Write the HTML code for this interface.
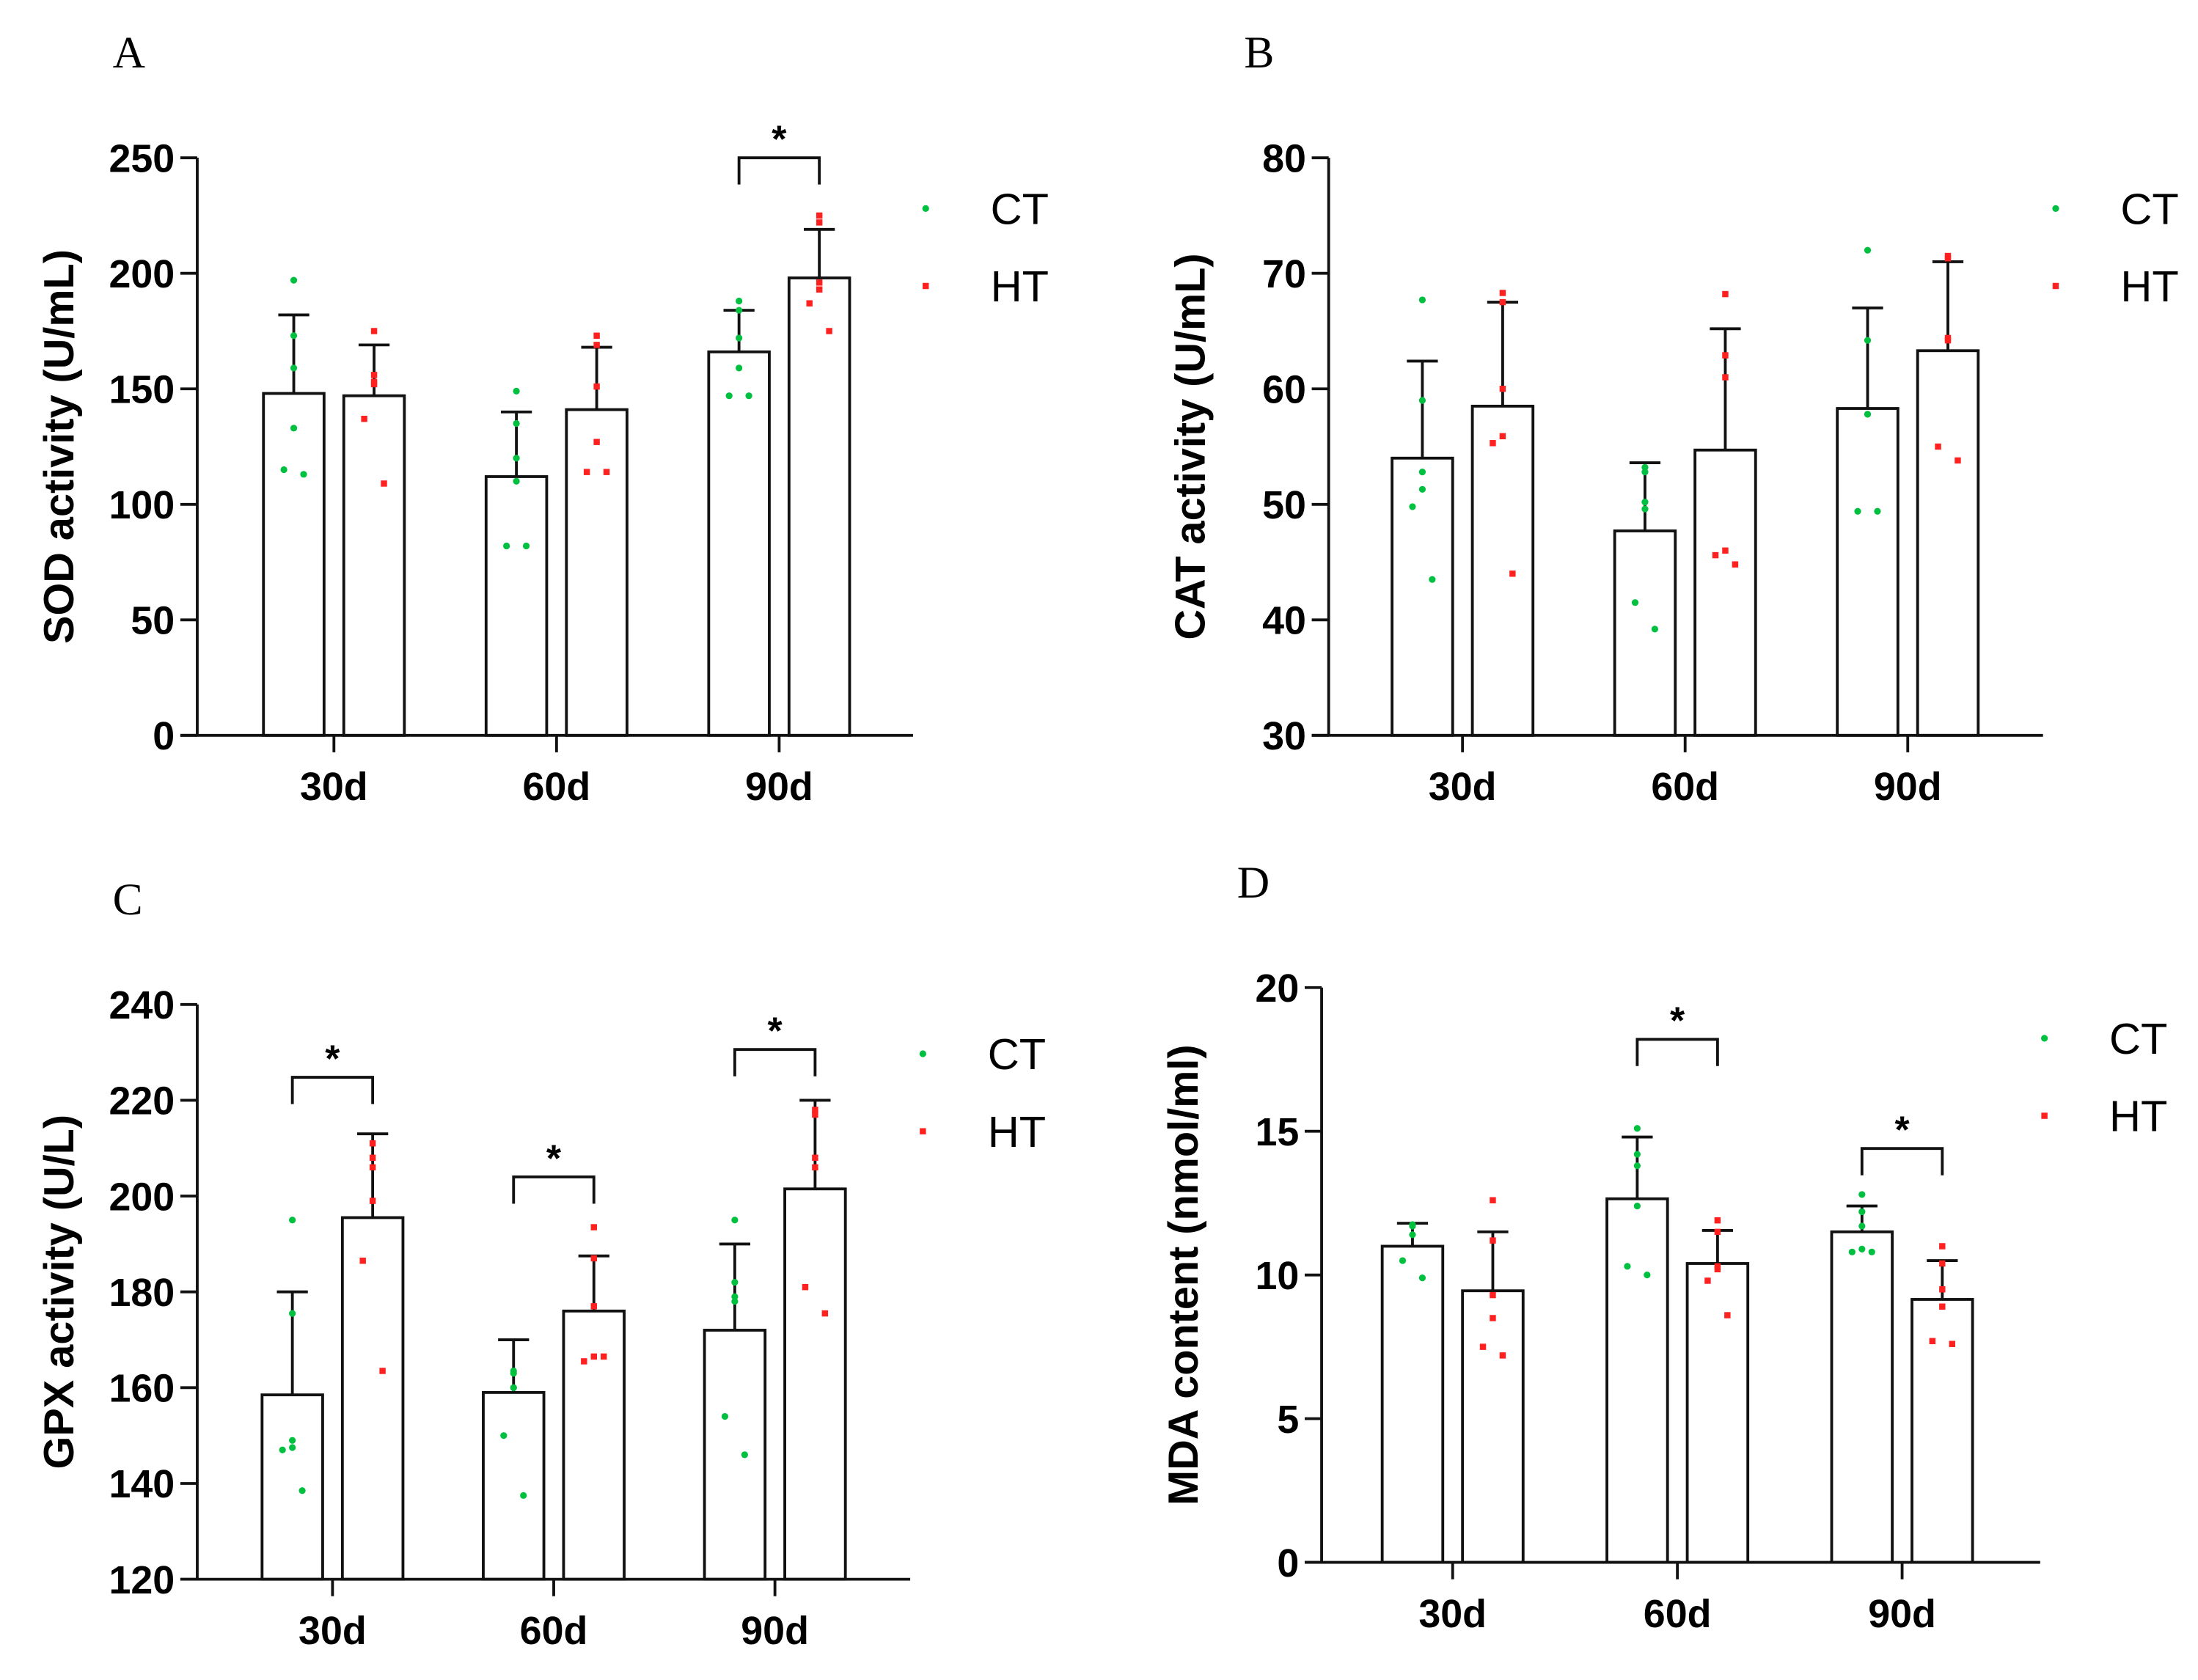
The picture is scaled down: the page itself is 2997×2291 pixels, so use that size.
<!DOCTYPE html>
<html><head><meta charset="utf-8">
<style>
html,body{margin:0;padding:0;background:#fff;}
svg{display:block;}
text{font-family:"Liberation Sans",Arial,sans-serif;}
text.serif{font-family:"Liberation Serif","Times New Roman",serif;}
</style></head>
<body>
<svg id="fig" width="2997" height="2291" viewBox="0 0 1560 1192.5" preserveAspectRatio="none" xmlns="http://www.w3.org/2000/svg"></svg>
<script>
const categories = ["30d","60d","90d"];
// Panel A: SOD
const aTicks = [0,50,100,150,200,250];
const aCT = [148,112,166];
const aHT = [147,141,198];
const aCTerr = [182,140,184];
const aHTerr = [169,168,219];
const aCTpts = [[197,173,159,133,115,113],[149,135,120,110,82,82],[188,184,172,159,147,147]];
const aHTpts = [[175,156,153,152,137,109],[173,169,151,127,114,114],[225,222,196,193,187,175]];
const aSig = [null,null,250];
// Panel B: CAT
const bTicks = [30,40,50,60,70,80];
const bCT = [54,47.7,58.3];
const bHT = [58.5,54.7,63.3];
const bCTerr = [62.4,53.6,67];
const bHTerr = [67.5,65.2,71];
const bCTpts = [[67.7,59,52.8,51.3,49.8,43.5],[53.2,52.8,50.2,49.6,41.5,39.2],[72,64.2,57.8,57.8,49.4,49.4]];
const bHTpts = [[68.3,67.5,60,55.9,55.3,44],[68.2,62.9,61,46,45.6,44.8],[71.5,71.3,64.4,64.2,55,53.8]];
const bSig = [null,null,null];
// Panel C: GPX
const cTicks = [120,140,160,180,200,220,240];
const cCT = [158.5,159,172];
const cHT = [195.5,176,201.5];
const cCTerr = [180,170,190];
const cHTerr = [213,187.5,220];
const cCTpts = [[195,175.5,149,147.5,147,138.5],[163.5,163,160,160,150,137.5],[195,182,179,178,154,146]];
const cHTpts = [[211,208,206,199,186.5,163.5],[193.5,187,177,166.5,165.5,166.5],[218,217,208,206,181,175.5]];
const cSig = [224.8,204,230.6];
// Panel D: MDA
const dTicks = [0,5,10,15,20];
const dCT = [11.0,12.65,11.5];
const dHT = [9.45,10.4,9.15];
const dCTerr = [11.8,14.8,12.4];
const dHTerr = [11.5,11.55,10.5];
const dCTpts = [[11.75,11.75,11.7,11.4,10.5,9.9],[15.1,14.2,13.8,12.4,10.3,10.0],[12.8,12.2,11.7,10.9,10.8,10.8]];
const dHTpts = [[12.6,11.2,9.3,8.5,7.5,7.2],[11.9,11.5,10.3,10.2,9.8,8.6],[11.0,10.4,9.5,8.9,7.7,7.6]];
const dSig = [null,18.2,14.4];

const NS="http://www.w3.org/2000/svg";
const svg=document.getElementById('fig');
function mk(tag,attrs,parent){const e=document.createElementNS(NS,tag);for(const k in attrs)e.setAttribute(k,attrs[k]);(parent||svg).appendChild(e);return e;}
const jit=[0,0,0,0,-7,7];

function panel(o){
  const g=mk('g',{});
  
  
  const min=o.ticks[0],max=o.ticks[o.ticks.length-1];
  const y=v=>o.y0-(v-min)/(max-min)*(o.y0-o.yTop);
  const cx=i=>o.cat0+o.step*i;
  const off=28.5,bw=43;
  const L=mk('text',{x:o.ax-60,y:o.yTop-64,'font-size':32,'class':'serif'},g);L.textContent=o.letter;
  
  categories.forEach((c,i)=>{
    [[o.ct,o.cterr,o.ctpts,-off,'#00c040'],[o.ht,o.hterr,o.htpts,off,'#ff2020']].forEach((s,k)=>{
      const bx=cx(i)+s[3];
      const r=mk('rect',{x:bx-bw/2,y:y(s[0][i]),width:bw,height:o.y0-y(s[0][i]),fill:'#fff',stroke:'#111','stroke-width':2},g);
      
      const e=mk('path',{d:`M${bx},${y(s[0][i])}V${y(s[1][i])}M${bx-11},${y(s[1][i])}H${bx+11}`,stroke:'#111','stroke-width':2,fill:'none'},g);
      
      s[2][i].forEach((v,j)=>{
        const p=k?mk('rect',{x:bx+jit[j]-2.2,y:y(v)-2.2,width:4.4,height:4.4,fill:s[4]},g):mk('circle',{cx:bx+jit[j],cy:y(v),r:2.4,fill:s[4]},g);
        
      });
    });
    if(o.sig[i]!=null){
      const x1=cx(i)-off,x2=cx(i)+off,yy=y(o.sig[i]);
      const b=mk('path',{d:`M${x1},${yy+19}V${yy}H${x2}V${yy+19}`,stroke:'#111','stroke-width':2,fill:'none'},g);
      
      const st=mk('text',{x:cx(i),y:yy-4,'font-size':27,'font-weight':'bold','text-anchor':'middle'},g);st.textContent='*';
      
    }
    mk('line',{x1:cx(i),x2:cx(i),y1:o.y0,y2:o.y0+12,stroke:'#111','stroke-width':2},g);
    const tl=mk('text',{x:cx(i),y:o.y0+46,'font-size':28,'font-weight':'bold','text-anchor':'middle'},g);tl.textContent=c;
    
  });
  const ax=mk('path',{d:`M${o.ax},${o.yTop}V${o.y0}M${o.ax-12},${o.y0}H${o.xEnd}`,stroke:'#111','stroke-width':2,fill:'none'},g);
  
  o.ticks.forEach(t=>{
    mk('line',{x1:o.ax-12,x2:o.ax,y1:y(t),y2:y(t),stroke:'#111','stroke-width':2},g);
    const tt=mk('text',{x:o.ax-16,y:y(t)+10,'font-size':28,'font-weight':'bold','text-anchor':'end'},g);tt.textContent=t;
    
  });
  const yc=(o.yTop+o.y0)/2;
  const yt=mk('text',{x:0,y:0,'font-size':30,'font-weight':'bold','text-anchor':'middle',transform:`translate(${o.ax-88},${yc}) rotate(-90)`},g);yt.textContent=o.title;
  
  [['CT','#00c040',0],['HT','#ff2020',55]].forEach(l=>{
    const lx=o.legX,ly=o.legY+l[2];
    if(l[0]==='CT')mk('circle',{cx:lx,cy:ly,r:2.4,fill:l[1]},g);else mk('rect',{x:lx-2.2,y:ly-2.2,width:4.4,height:4.4,fill:l[1]},g);
    const lt=mk('text',{x:lx+46,y:ly+11,'font-size':31},g);lt.textContent=l[0];
    
  });
}
panel({name:'panel-a-sod',letter:'A',ticks:aTicks,ct:aCT,ht:aHT,cterr:aCTerr,hterr:aHTerr,ctpts:aCTpts,htpts:aHTpts,sig:aSig,ax:140,xEnd:648,y0:522,yTop:112,cat0:237,step:158,title:'SOD activity (U/mL)',legX:657,legY:148});
panel({name:'panel-b-cat',letter:'B',ticks:bTicks,ct:bCT,ht:bHT,cterr:bCTerr,hterr:bHTerr,ctpts:bCTpts,htpts:bHTpts,sig:bSig,ax:943,xEnd:1450,y0:522,yTop:112,cat0:1038,step:158,title:'CAT activity (U/mL)',legX:1459,legY:148});
panel({name:'panel-c-gpx',letter:'C',ticks:cTicks,ct:cCT,ht:cHT,cterr:cCTerr,hterr:cCTerr===null?null:cHTerr,ctpts:cCTpts,htpts:cHTpts,sig:cSig,ax:140,xEnd:646,y0:1121,yTop:713,cat0:236,step:157,title:'GPX activity (U/L)',legX:655,legY:748});
panel({name:'panel-d-mda',letter:'D',ticks:dTicks,ct:dCT,ht:dHT,cterr:dCTerr,hterr:dHTerr,ctpts:dCTpts,htpts:dHTpts,sig:dSig,ax:938,xEnd:1448,y0:1109,yTop:701,cat0:1031,step:159.5,title:'MDA content (nmol/ml)',legX:1451,legY:737});
</script>
</body></html>
